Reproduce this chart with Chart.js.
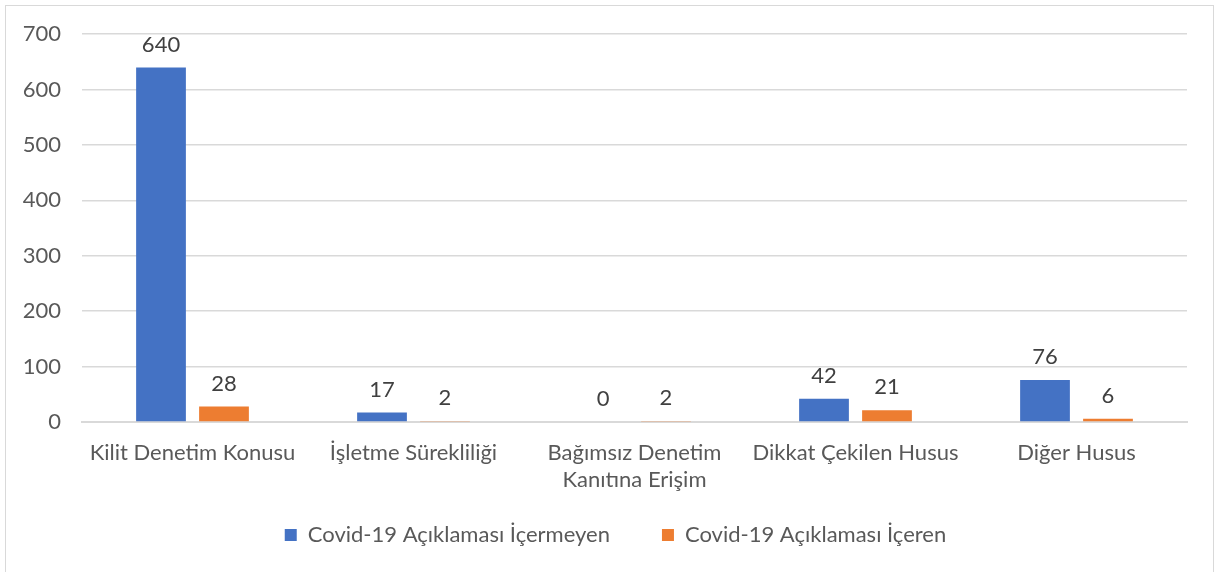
<!DOCTYPE html>
<html>
<head>
<meta charset="utf-8">
<script src="https://cdn.jsdelivr.net/npm/chart.js@4"></script>
<style>
  html, body { margin: 0; padding: 0; background: #fff; }
  #frame { position: absolute; left: 5px; top: 5px; width: 1209px; height: 580px; border: 1px solid #d9d9d9; box-sizing: border-box; }
  #wrap { position: absolute; left: 0; top: 0; width: 1221px; height: 572px; }
</style>
</head>
<body>
<div id="frame"></div>
<div id="wrap"><canvas id="chart"></canvas></div>
<script>
const categories = ['Kilit Denetim Konusu', 'İşletme Sürekliliği', ['Bağımsız Denetim', 'Kanıtına Erişim'], 'Dikkat Çekilen Husus', 'Diğer Husus'];
const withoutCovid = [640, 17, 0, 42, 76];
const withCovid = [28, 2, 2, 21, 6];
const seriesNames = ['Covid-19 Açıklaması İçermeyen', 'Covid-19 Açıklaması İçeren'];

const TEXT = '#595959';
const FONT = 'Lato';
const SIZE = 22;

// value labels above each bar
const barLabels = {
  id: 'barLabels',
  afterDatasetsDraw(chart) {
    const ctx = chart.ctx;
    ctx.save();
    ctx.font = SIZE + 'px ' + FONT;
    ctx.fillStyle = '#404040';
    ctx.textAlign = 'center';
    ctx.textBaseline = 'middle';
    chart.data.datasets.forEach((ds, i) => {
      chart.getDatasetMeta(i).data.forEach((bar, j) => {
        ctx.fillText(ds.data[j], bar.x, bar.y - 23);
      });
    });
    ctx.restore();
  }
};

// legend is centred on the whole frame, not on the plot
const legendShift = {
  id: 'legendShift',
  afterLayout(chart) {
    chart.legend.left += 22;
    chart.legend.right += 22;
  }
};

new Chart(document.getElementById('chart'), {
  type: 'bar',
  data: {
    labels: categories,
    datasets: [
      { label: seriesNames[0], data: withoutCovid, backgroundColor: '#4472C4', barPercentage: 0.79, categoryPercentage: 0.57 },
      { label: seriesNames[1], data: withCovid, backgroundColor: '#ED7D31', barPercentage: 0.79, categoryPercentage: 0.57 },
    ]
  },
  options: {
    responsive: true, maintainAspectRatio: false, animation: false,
    layout: { padding: { top: 34, right: 34, bottom: 16, left: 0 } },
    plugins: {
      tooltip: { enabled: false },
      legend: {
        position: 'bottom',
        labels: {
          color: TEXT, font: { family: FONT, size: SIZE }, boxWidth: 12, boxHeight: 12, padding: 30,
          // extra gap after the first item
          generateLabels: chart => Chart.defaults.plugins.legend.labels.generateLabels(chart)
            .map((l, i) => i === 0 ? Object.assign(l, { text: l.text + '\u2002\u2002' }) : l)
        }
      }
    },
    scales: {
      x: {
        grid: { display: false },
        border: { color: '#d9d9d9', width: 2 },
        ticks: { color: TEXT, font: { family: FONT, size: SIZE }, padding: 10, maxRotation: 0, autoSkip: false },
        afterFit: s => { s.height = 72; }
      },
      y: {
        min: 0, max: 700,
        border: { display: false },
        grid: { color: '#d9d9d9', drawTicks: false, lineWidth: 1.5 },
        ticks: { stepSize: 100, color: TEXT, font: { family: FONT, size: SIZE }, padding: 21 },
        afterFit: s => { s.width = 82; }
      }
    }
  },
  plugins: [barLabels, legendShift]
});
</script>
</body>
</html>
